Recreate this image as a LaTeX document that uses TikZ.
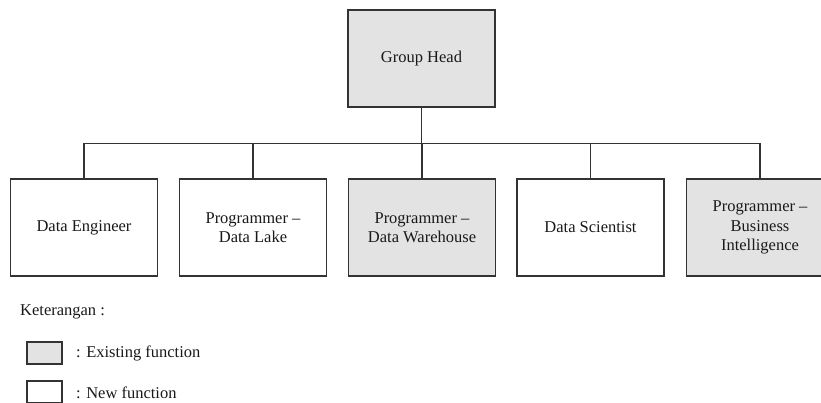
\documentclass[tikz,border=0pt]{standalone}
\usepackage{fontspec}
\setmainfont{Liberation Serif}
\begin{document}
\begin{tikzpicture}[x=1pt,y=-1pt,
  unitbox/.style={draw=black!80, line width=1.4pt, minimum width=147pt, minimum height=97pt,
    inner sep=0pt, align=center, text=black!90,
    font=\fontsize{16.5}{19.5}\selectfont},
  existing/.style={unitbox, fill=black!11},
  newunit/.style={unitbox, fill=white},
  legendbox/.style={draw=black!80, line width=1.4pt, minimum width=35pt, minimum height=22pt, inner sep=0pt},
  legendtext/.style={anchor=west, inner sep=0pt, text=black!90, font=\fontsize{16.5}{19.5}\selectfont},
  link/.style={draw=black!80, line width=1.3pt}]
\useasboundingbox (0,0) rectangle (821,403);

% head of the group
\node[existing] (head) at (421.5,58.5) {Group Head};

% units below the head
\node[newunit]  (eng) at (84,227.5)  {Data Engineer};
\node[newunit]  (lake) at (253,227.5) {Programmer --\\Data Lake};
\node[existing] (wh) at (422,227.5)  {Programmer --\\Data Warehouse};
\node[newunit]  (sci) at (590.5,227.5) {Data Scientist};
\node[existing] (bi) at (760,227.5)  {Programmer --\\Business\\Intelligence};

% branch line
\coordinate (bus) at (421.5,143.5);
\draw[link] (head.south) -- (bus);
\draw[link] (eng.north) |- (bus) -| (bi.north);
\foreach \u in {lake,wh,sci} \draw[link] (\u.north) -- (\u.north |- bus);

% legend
\node[legendtext] (ket) at (20,312) {Keterangan :};
\node[legendbox, fill=black!11] (lgold) at (44.5,353) {};
\node[legendtext] (lgoldt) at (76,353) {: Existing function};
\node[legendbox, fill=white] (lgnew) at (44.5,392) {};
\node[legendtext] (lgnewt) at (76,393) {: New function};
\end{tikzpicture}
\end{document}
